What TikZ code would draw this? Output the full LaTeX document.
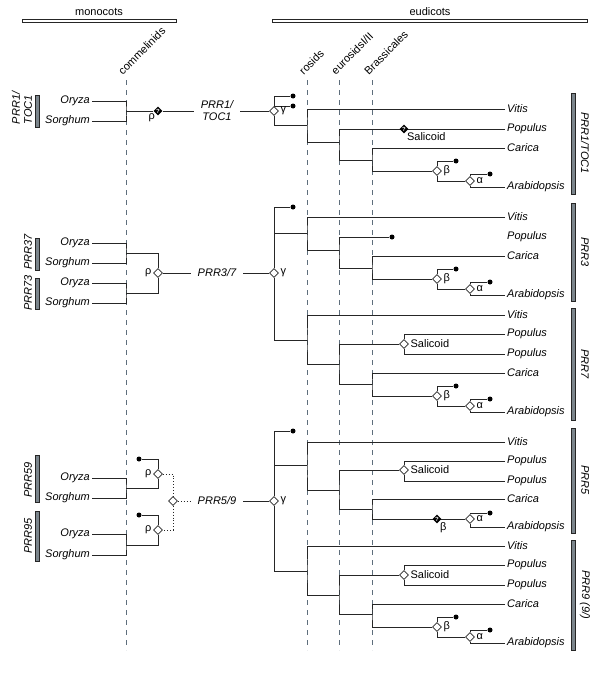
\documentclass[tikz,border=0pt]{standalone}
\usepackage{fontspec}
\setmainfont{Liberation Sans}
\usetikzlibrary{shapes.geometric,backgrounds}
\definecolor{branch}{HTML}{262626}
\definecolor{cladeline}{HTML}{5E6E7C}
\definecolor{genebar}{HTML}{7B858C}

\begin{document}
\begin{tikzpicture}[x=1pt,y=-1pt,
  font=\fontsize{11}{12}\selectfont,
  dup/.style={shape=diamond, draw=branch, fill=white, line width=0.8pt, inner sep=0pt, minimum size=9pt},
  qdup/.style={shape=diamond, fill=black, inner sep=0pt, minimum size=9pt, text=white, font=\fontsize{6}{6}\selectfont\bfseries},
  loss/.style={shape=circle, fill=black, inner sep=0pt, minimum size=5pt},
  lab/.style={label={[inner sep=1.5pt]right:#1}},
  leafR/.style={anchor=west, inner sep=2pt, font=\fontsize{11}{12}\selectfont\itshape},
  leafL/.style={anchor=east, inner sep=2pt, font=\fontsize{11}{12}\selectfont\itshape},
  gene/.style={inner ysep=2pt, inner xsep=7pt, align=center, font=\fontsize{11}{12}\selectfont\itshape},
  famL/.style={rotate=90, inner sep=1pt, align=left, font=\fontsize{11}{12}\selectfont\itshape},
  famR/.style={rotate=-90, inner sep=1pt, font=\fontsize{11}{12}\selectfont\itshape},
  clade/.style={anchor=south west, rotate=45, inner sep=1pt},
  genebar/.style={draw=branch, fill=genebar, line width=0.6pt},
  groupbar/.style={draw=branch, fill=white, line width=0.8pt},
  br/.style={draw=branch, line width=0.9pt}]
\useasboundingbox (0,0) rectangle (600,677);

% groups
\draw[groupbar] (22,19) rectangle (176,22);
\node[anchor=base] (mono) at (99,16) {monocots};
\draw[groupbar] (272,19) rectangle (587,22);
\node[anchor=base] (eudi) at (430,16) {eudicots};

\node[clade] (com) at (123,77) {commelinids};
\node[clade] (ros) at (304,77) {rosids};
\node[clade] (eur) at (336,77) {eurosidsI/II};
\node[clade] (bra) at (369,77) {Brassicales};

%%% PRR1/TOC1
\node[leafL] (o1) at (92,101) {Oryza};
\node[leafL] (s1) at (92,121) {Sorghum};
\coordinate (m1) at (126,111);
\node[qdup, label={[inner sep=0.5pt]below left:ρ}] (rho1) at (158,111) {?};
\node[gene] (t1) at (217,111) {PRR1/\\TOC1};
\node[dup, lab=γ] (g1) at (274,111) {};
\node[loss] (d1a) at (293,96) {};
\node[loss] (d1b) at (293,106) {};
\coordinate (r1) at (307,125);
\coordinate (e1) at (339,142);
\coordinate (b1) at (372,160);
\node[qdup, label={[inner sep=0.5pt]below right:Salicoid}] (q1) at (404,129) {?};
\node[dup, lab=β] (be1) at (437,171) {};
\node[loss] (d1c) at (456,161) {};
\node[dup, lab=α] (al1) at (470,181) {};
\node[loss] (d1d) at (490,174) {};
\node[leafR] (vit1) at (505,109) {Vitis};
\node[leafR] (pop1) at (505,129) {Populus};
\node[leafR] (car1) at (505,148) {Carica};
\node[leafR] (ara1) at (505,187) {Arabidopsis};

\draw[genebar] (35.5,95) rectangle (39,127);
\node[famL] (f1l) at (22,108) {PRR1/\\TOC1};
\draw[genebar] (571.5,93) rectangle (575,194);
\node[famR] (f1r) at (585,143) {PRR1/TOC1};

%%% PRR3/7
\node[leafL] (o2) at (92,243) {Oryza};
\node[leafL] (s2) at (92,263) {Sorghum};
\node[leafL] (o3) at (92,283) {Oryza};
\node[leafL] (s3) at (92,303) {Sorghum};
\coordinate (m2) at (126,253);
\coordinate (m3) at (126,293);
\node[dup, label={[inner sep=1.5pt]left:ρ}] (rho2) at (158,273) {};
\node[gene] (t2) at (217,273) {PRR3/7};
\node[dup, lab=γ] (g2) at (274,273) {};
\node[loss] (d2a) at (293,207) {};
\coordinate (r2) at (307,233);
\coordinate (r3) at (307,340);
% PRR3
\coordinate (e2) at (339,250);
\node[loss] (d2b) at (392,237) {};
\coordinate (b2) at (372,268);
\node[dup, lab=β] (be2) at (437,279) {};
\node[loss] (d2c) at (456,269) {};
\node[dup, lab=α] (al2) at (470,289) {};
\node[loss] (d2d) at (490,282) {};
\node[leafR] (vit2) at (505,217) {Vitis};
\node[leafR] (pop2) at (505,237) {Populus};
\node[leafR] (car2) at (505,256) {Carica};
\node[leafR] (ara2) at (505,295) {Arabidopsis};
% PRR7
\coordinate (e3) at (339,364);
\node[dup, lab=Salicoid] (sal3) at (404,344) {};
\coordinate (b3) at (372,384);
\node[dup, lab=β] (be3) at (437,396) {};
\node[loss] (d3c) at (456,386) {};
\node[dup, lab=α] (al3) at (470,406) {};
\node[loss] (d3d) at (490,399) {};
\node[leafR] (vit3) at (505,315) {Vitis};
\node[leafR] (pop3) at (505,334) {Populus};
\node[leafR] (pop4) at (505,354) {Populus};
\node[leafR] (car3) at (505,373) {Carica};
\node[leafR] (ara3) at (505,412) {Arabidopsis};

\draw[genebar] (35.5,238) rectangle (39,270);
\node[famL] (f37) at (28,252) {PRR37};
\draw[genebar] (35.5,278) rectangle (39,309);
\node[famL] (f73) at (28,293) {PRR73};
\draw[genebar] (571.5,203) rectangle (575,301);
\node[famR] (f3) at (585,252) {PRR3};
\draw[genebar] (571.5,308) rectangle (575,420);
\node[famR] (f7) at (585,364) {PRR7};

%%% PRR5/9
\node[leafL] (o4) at (92,478) {Oryza};
\node[leafL] (s4) at (92,498) {Sorghum};
\node[leafL] (o5) at (92,534) {Oryza};
\node[leafL] (s5) at (92,555) {Sorghum};
\coordinate (m4) at (126,488);
\coordinate (m5) at (126,545);
\node[dup, label={[inner sep=1.5pt]left:ρ}] (rho3) at (158,474) {};
\node[loss] (d4a) at (139,459) {};
\node[dup, label={[inner sep=1.5pt]left:ρ}] (rho4) at (158,530) {};
\node[loss] (d5a) at (139,515) {};
\node[dup] (rho5) at (173,501) {};
\node[gene] (t3) at (217,501) {PRR5/9};
\node[dup, lab=γ] (g3) at (274,501) {};
\node[loss] (d4b) at (293,431) {};
\coordinate (r4) at (307,465);
\coordinate (r5) at (307,571);
% PRR5
\coordinate (e4) at (339,490);
\node[dup, lab=Salicoid] (sal4) at (404,470) {};
\coordinate (b4) at (372,509);
\node[qdup, label={[inner sep=0.5pt]below right:β}] (q4) at (437,519) {?};
\node[dup, lab=α] (al4) at (470,519) {};
\node[loss] (d4c) at (490,513) {};
\node[leafR] (vit4) at (505,442) {Vitis};
\node[leafR] (pop5) at (505,461) {Populus};
\node[leafR] (pop6) at (505,481) {Populus};
\node[leafR] (car4) at (505,499) {Carica};
\node[leafR] (ara4) at (505,527) {Arabidopsis};
% PRR9
\coordinate (e5) at (339,595);
\node[dup, lab=Salicoid] (sal5) at (404,575) {};
\coordinate (b5) at (372,614);
\node[dup, lab=β] (be5) at (437,627) {};
\node[loss] (d5c) at (456,617) {};
\node[dup, lab=α] (al5) at (470,637) {};
\node[loss] (d5d) at (490,630) {};
\node[leafR] (vit5) at (505,546) {Vitis};
\node[leafR] (pop7) at (505,565) {Populus};
\node[leafR] (pop8) at (505,585) {Populus};
\node[leafR] (car5) at (505,604) {Carica};
\node[leafR] (ara5) at (505,643) {Arabidopsis};

\draw[genebar] (35.5,455) rectangle (39,502);
\node[famL] (f59) at (28,480) {PRR59};
\draw[genebar] (35.5,511) rectangle (39,561);
\node[famL] (f95) at (28,536) {PRR95};
\draw[genebar] (571.5,428) rectangle (575,533);
\node[famR] (f5) at (585,480) {PRR5};
\draw[genebar] (571.5,540) rectangle (575,650);
\node[famR] (f9) at (585,595) {PRR9 (9/)};

\begin{pgfonlayer}{background}
\foreach \x in {126,307,339,372}
  \draw[cladeline, line width=0.8pt, dash pattern=on 5pt off 5pt] (\x,80) -- (\x,650);

% PRR1/TOC1
\draw[br] (o1) -| (m1) |- (s1);
\draw[br] (m1) -- (rho1) -- (t1) -- (g1);
\draw[br] (d1a) -| (g1) |- (r1);
\draw[br] (d1b) -| (g1);
\draw[br] (vit1) -| (r1) |- (e1);
\draw[br] (pop1) -| (e1) |- (b1);
\draw[br] (car1) -| (b1) |- (be1);
\draw[br] (d1c) -| (be1) |- (al1);
\draw[br] (d1d) -| (al1) |- (ara1);

% PRR3/7
\draw[br] (o2) -| (m2) |- (s2);
\draw[br] (o3) -| (m3) |- (s3);
\draw[br] (m2) -| (rho2) |- (m3);
\draw[br] (rho2) -- (t2) -- (g2);
\draw[br] (d2a) -| (g2) |- (r3);
\draw[br] (r2) -| (g2);
\draw[br] (vit2) -| (r2) |- (e2);
\draw[br] (d2b) -| (e2) |- (b2);
\draw[br] (car2) -| (b2) |- (be2);
\draw[br] (d2c) -| (be2) |- (al2);
\draw[br] (d2d) -| (al2) |- (ara2);
\draw[br] (vit3) -| (r3) |- (e3);
\draw[br] (pop3) -| (sal3) |- (pop4);
\draw[br] (sal3) -| (e3) |- (b3);
\draw[br] (car3) -| (b3) |- (be3);
\draw[br] (d3c) -| (be3) |- (al3);
\draw[br] (d3d) -| (al3) |- (ara3);

% PRR5/9
\draw[br] (o4) -| (m4) |- (s4);
\draw[br] (o5) -| (m5) |- (s5);
\draw[br] (d4a) -| (rho3) |- (m4);
\draw[br] (d5a) -| (rho4) |- (m5);
\draw[br, dotted] (rho3) -| (rho5) |- (rho4);
\draw[br, dotted] (rho5) -- (t3);
\draw[br] (t3) -- (g3);
\draw[br] (d4b) -| (g3) |- (r5);
\draw[br] (r4) -| (g3);
\draw[br] (vit4) -| (r4) |- (e4);
\draw[br] (pop5) -| (sal4) |- (pop6);
\draw[br] (sal4) -| (e4) |- (b4);
\draw[br] (car4) -| (b4) |- (al4);
\draw[br] (d4c) -| (al4) |- (ara4);
\draw[br] (vit5) -| (r5) |- (e5);
\draw[br] (pop7) -| (sal5) |- (pop8);
\draw[br] (sal5) -| (e5) |- (b5);
\draw[br] (car5) -| (b5) |- (be5);
\draw[br] (d5c) -| (be5) |- (al5);
\draw[br] (d5d) -| (al5) |- (ara5);
\end{pgfonlayer}
\end{tikzpicture}
\end{document}
